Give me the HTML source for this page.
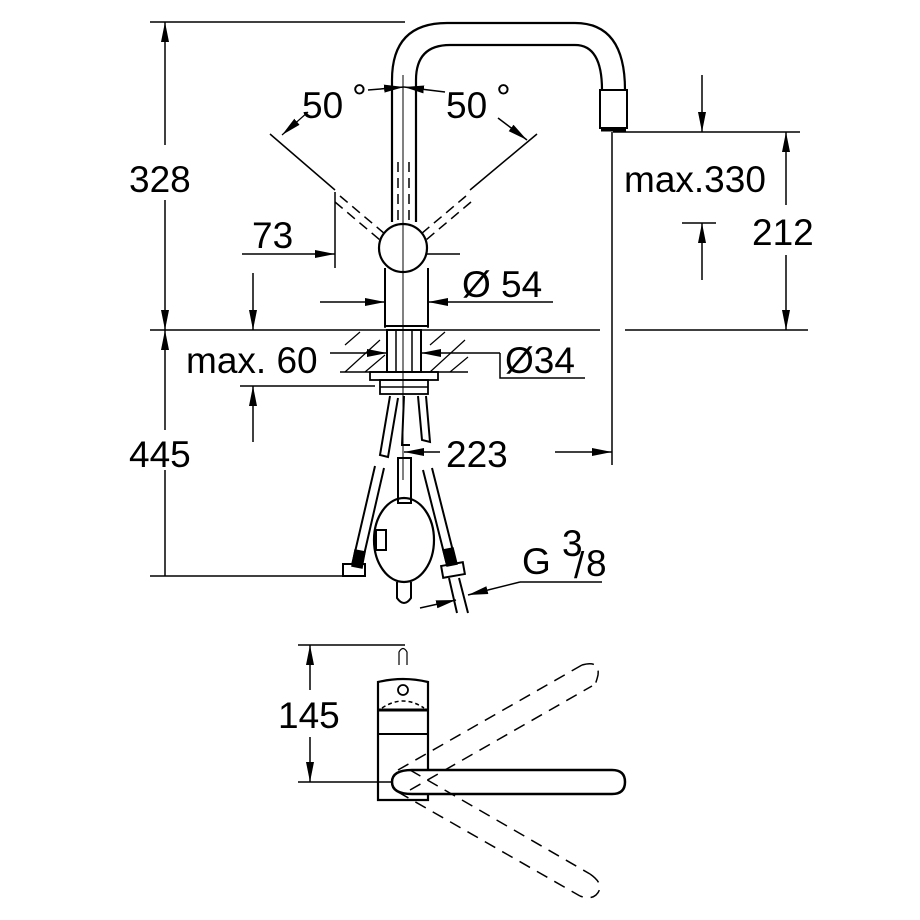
<!DOCTYPE html>
<html><head><meta charset="utf-8"><style>
html,body{margin:0;padding:0;background:#fff;}
svg{display:block;}
text{font-family:"Liberation Sans",sans-serif;font-size:37px;fill:#000;}
</style></head><body>
<svg width="920" height="920" viewBox="0 0 920 920" xmlns="http://www.w3.org/2000/svg">
<defs>
<marker id="a" viewBox="0 0 20 10" refX="20" refY="5" markerWidth="20" markerHeight="10" markerUnits="userSpaceOnUse" orient="auto"><path d="M0,1 L20,5 L0,9 z" fill="#000"/></marker>
</defs>
<g stroke="#000" fill="none" stroke-width="1.5">
<line x1="150" y1="22" x2="405" y2="22"/>
<line x1="165" y1="145" x2="165" y2="22" marker-end="url(#a)"/>
<line x1="165" y1="200" x2="165" y2="330" marker-end="url(#a)"/>
<line x1="165" y1="430" x2="165" y2="330" marker-end="url(#a)"/>
<line x1="165" y1="470" x2="165" y2="576"/>
<line x1="150" y1="576" x2="350" y2="576"/>
<line x1="150" y1="330" x2="600" y2="330"/>
<line x1="625" y1="330" x2="808" y2="330"/>
<line x1="613" y1="132" x2="800" y2="132"/>
<line x1="786" y1="205" x2="786" y2="132" marker-end="url(#a)"/>
<line x1="786" y1="255" x2="786" y2="330" marker-end="url(#a)"/>
<line x1="702" y1="75" x2="702" y2="132" marker-end="url(#a)"/>
<line x1="682" y1="223" x2="716" y2="223"/>
<line x1="702" y1="280" x2="702" y2="223" marker-end="url(#a)"/>
<line x1="612" y1="132" x2="612" y2="465"/>
<line x1="440" y1="452" x2="404" y2="452" marker-end="url(#a)"/>
<line x1="555" y1="452" x2="612" y2="452" marker-end="url(#a)"/>
<line x1="253" y1="273" x2="253" y2="330" marker-end="url(#a)"/>
<line x1="240" y1="386" x2="375" y2="386"/>
<line x1="253" y1="442" x2="253" y2="386" marker-end="url(#a)"/>
<line x1="242" y1="254" x2="335" y2="254" marker-end="url(#a)"/>
<line x1="335" y1="192" x2="335" y2="268"/>
<line x1="460" y1="254" x2="404" y2="254" marker-end="url(#a)"/>
<line x1="320" y1="302" x2="385" y2="302" marker-end="url(#a)"/>
<line x1="553" y1="302" x2="428" y2="302" marker-end="url(#a)"/>
<line x1="385" y1="288" x2="385" y2="328"/>
<line x1="428" y1="288" x2="428" y2="328"/>
<line x1="330" y1="353" x2="387" y2="353" marker-end="url(#a)"/>
<path d="M500,353 L421,353" marker-end="url(#a)"/>
<path d="M500,353 L500,378 L585,378"/>
<line x1="270" y1="134" x2="335" y2="190"/>
<line x1="537" y1="134" x2="470" y2="190"/>
<line x1="308" y1="112" x2="282" y2="135" marker-end="url(#a)" stroke-width="1.2"/>
<line x1="498" y1="118" x2="527" y2="140" marker-end="url(#a)"/>
<line x1="368" y1="90" x2="404" y2="87" marker-end="url(#a)"/>
<line x1="445" y1="92" x2="404" y2="87" marker-end="url(#a)"/>
<g stroke-dasharray="10,6">
<path d="M340,196 L385,234 M335,202 L380,240"/>
<path d="M466,196 L421,234 M471,202 L426,240"/>
<path d="M398,162 L398,220 M409,162 L409,220"/>
</g>
<path d="M392,222 L392,80 Q392,23 447,23 L575,23 Q625,23 625,90" stroke-width="2.2"/>
<path d="M416,222 L416,80 Q416,45 450,45 L575,45 Q602,45 602,90" stroke-width="2.2"/>
<rect x="600" y="90" width="27" height="38" stroke-width="2"/>
<line x1="601" y1="130" x2="626" y2="130" stroke-width="3"/>
<circle cx="403" cy="248" r="24" stroke-width="2.2" fill="#fff"/>
<line x1="403" y1="75" x2="403" y2="480" stroke-width="1"/>
<path d="M385,268 L385,326 L428,326 L428,268" stroke-width="2"/>
<line x1="340" y1="372" x2="468" y2="372"/>
<g stroke-width="1.2">
<path d="M345,345 L360,332 M345,372 L380,340 M365,372 L385,355 M430,345 L445,332 M430,372 L465,340 M450,372 L468,357"/>
</g>
<rect x="387" y="330" width="34" height="42" stroke-width="2"/>
<line x1="396" y1="330" x2="396" y2="372"/><line x1="412" y1="330" x2="412" y2="372"/>
<rect x="370" y="372" width="68" height="8" stroke-width="1.8"/>
<rect x="380" y="380" width="48" height="14" stroke-width="1.8"/>
<line x1="380" y1="387" x2="428" y2="387"/>
<path d="M390,396 L380,455 L388,457 L398,398 M404,396 L402,445 L410,445 M418,396 L422,440 L430,442 L426,396" stroke-width="2"/>
<path d="M375,466 L352,565 M384,468 L361,568" stroke-width="2"/>
<path d="M355,550 L365,552 L362,568 L352,566z" fill="#000"/>
<rect x="343" y="564" width="22" height="12" stroke-width="2"/>
<path d="M423,470 L447,565 M432,468 L456,563" stroke-width="2"/>
<path d="M443,550 L453,548 L457,564 L447,566z" fill="#000"/>
<rect x="442" y="564" width="22" height="12" stroke-width="2" transform="rotate(-10 453 570)"/>
<path d="M449,578 L457,613 M459,578 L468,613" stroke-width="2"/>
<rect x="398" y="458" width="13" height="45" stroke-width="2"/>
<ellipse cx="404" cy="540" rx="30" ry="42" stroke-width="2.2"/>
<path d="M397,582 L397,598 Q404,608 411,598 L411,582" stroke-width="2"/>
<rect x="376" y="530" width="10" height="20" stroke-width="2"/>
<line x1="420" y1="608" x2="456" y2="600" marker-end="url(#a)"/>
<line x1="520" y1="582" x2="468" y2="595" marker-end="url(#a)"/>
<line x1="520" y1="582" x2="602" y2="582"/>
<line x1="298" y1="645" x2="405" y2="645"/>
<line x1="298" y1="782" x2="400" y2="782"/>
<line x1="310" y1="690" x2="310" y2="645" marker-end="url(#a)"/>
<line x1="310" y1="737" x2="310" y2="782" marker-end="url(#a)"/>
<path d="M378,800 L378,682 Q403,676 428,682 L428,800 Z" stroke-width="2.2"/>
<line x1="378" y1="710" x2="428" y2="710" stroke-width="3"/>
<line x1="378" y1="734" x2="428" y2="734" stroke-width="2"/>
<circle cx="403" cy="690" r="5" stroke-width="1.8"/>
<path d="M399,665 L399,652 Q403,645 407,652 L407,665" stroke-width="1.2"/>
<path d="M382,708 Q403,694 424,708" stroke-dasharray="4,3"/>
<path d="M412,770 L612,770 Q625,770 625,782 Q625,794 612,794 L412,794 Q392,794 392,782 Q392,770 412,770 Z" stroke-width="2.5" fill="#fff"/>
<g stroke-dasharray="12,8">
<path d="M398,770 L582,665 M410,790 L592,686"/>
<path d="M582,665 Q600,660 598,675 Q595,688 592,686"/>
<path d="M410,770 L590,874 M398,792 L580,896"/>
<path d="M590,874 Q606,885 596,895 Q590,900 580,896"/>
</g>
</g>
<text x="129" y="192">328</text>
<text x="129" y="467">445</text>
<text x="252" y="248">73</text>
<text x="302" y="118">50</text><text x="352" y="110" font-size="28">°</text>
<text x="446" y="118">50</text><text x="496" y="110" font-size="28">°</text>
<text x="462" y="297">Ø 54</text>
<text x="505" y="373">Ø34</text>
<text x="186" y="373">max. 60</text>
<text x="446" y="467">223</text>
<text x="624" y="192">max.330</text>
<text x="752" y="245">212</text>
<text x="522" y="574">G</text><text x="562" y="556" font-size="24">3</text><text x="574" y="578" font-size="28">/</text><text x="586" y="576" font-size="18">8</text>
<text x="278" y="728">145</text>
</svg>
</body></html>
